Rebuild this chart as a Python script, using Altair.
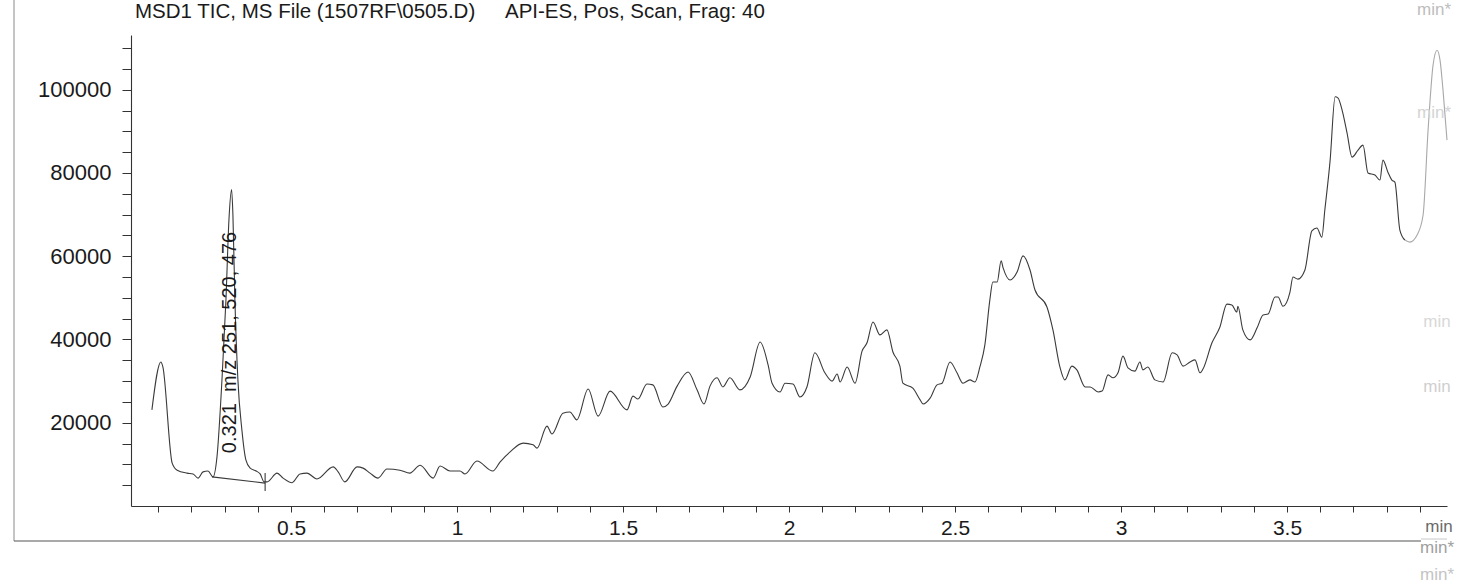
import altair as alt
import pandas as pd

# Total ion chromatogram: retention time (min) and TIC (counts)
time_min = [
    0.081, 0.108, 0.114, 0.142, 0.157, 0.187, 0.205, 0.220, 0.235, 0.250,
    0.265, 0.277, 0.292, 0.304, 0.313, 0.321, 0.325, 0.331, 0.340, 0.352,
    0.364, 0.377, 0.395, 0.407, 0.419, 0.428, 0.458, 0.476, 0.503, 0.527,
    0.548, 0.578, 0.627, 0.642, 0.662, 0.699, 0.717, 0.738, 0.762, 0.789,
    0.828, 0.858, 0.889, 0.928, 0.949, 0.979, 1.009, 1.024, 1.060, 1.108,
    1.130, 1.160, 1.199, 1.229, 1.241, 1.271, 1.286, 1.319, 1.340, 1.361,
    1.395, 1.425, 1.461, 1.512, 1.530, 1.545, 1.572, 1.590, 1.620, 1.636,
    1.663, 1.696, 1.723, 1.744, 1.762, 1.783, 1.801, 1.822, 1.852, 1.883,
    1.913, 1.937, 1.949, 1.973, 1.988, 2.012, 2.033, 2.054, 2.078, 2.108,
    2.130, 2.145, 2.154, 2.175, 2.199, 2.220, 2.235, 2.253, 2.274, 2.295,
    2.313, 2.334, 2.343, 2.373, 2.395, 2.404, 2.425, 2.446, 2.461, 2.485,
    2.506, 2.524, 2.545, 2.560, 2.575, 2.590, 2.605, 2.614, 2.627, 2.639,
    2.645, 2.666, 2.687, 2.705, 2.726, 2.741, 2.777, 2.795, 2.816, 2.831,
    2.852, 2.867, 2.892, 2.907, 2.931, 2.943, 2.961, 2.976, 2.991, 3.006,
    3.021, 3.042, 3.057, 3.066, 3.081, 3.102, 3.127, 3.154, 3.169, 3.187,
    3.208, 3.223, 3.238, 3.247, 3.274, 3.298, 3.319, 3.334, 3.349, 3.352,
    3.367, 3.389, 3.410, 3.428, 3.443, 3.464, 3.473, 3.488, 3.509, 3.518,
    3.533, 3.554, 3.575, 3.590, 3.605, 3.614, 3.630, 3.645, 3.654, 3.666,
    3.681, 3.696, 3.714, 3.729, 3.744, 3.765, 3.780, 3.789, 3.804, 3.816,
    3.825, 3.840, 3.855, 3.870, 3.892, 3.910, 3.925, 3.940, 3.952, 3.961,
    3.970, 3.982,
]
tic_counts = [
    23100, 34600, 33400, 10300, 8600, 7900, 7700, 6700, 8200, 8400,
    7000, 11800, 30300, 49500, 68700, 76000, 69900, 49500, 30300, 18300,
    11100, 9100, 8400, 7700, 5800, 5800, 7900, 6700, 5600, 7700,
    7900, 6500, 9400, 8200, 5800, 9400, 9100, 7900, 6700, 8900,
    8600, 7900, 9800, 6700, 9600, 8400, 8400, 7700, 10800, 8400,
    10600, 13000, 15100, 14700, 13900, 19200, 17300, 22300, 22600, 20700,
    28100, 21600, 27600, 23100, 26400, 25700, 29300, 29100, 23800, 24500,
    28800, 32200, 27900, 24500, 28800, 30800, 28600, 30800, 27900, 31000,
    39400, 33900, 29500, 27400, 29500, 29300, 26200, 28600, 36800, 32000,
    30000, 31700, 29800, 33400, 29500, 37200, 39200, 44200, 41100, 42300,
    37000, 33600, 29500, 28300, 25500, 24500, 25900, 29100, 29500, 34600,
    32000, 29500, 30300, 29800, 33400, 38700, 49500, 53800, 53800, 58900,
    57200, 54300, 56200, 60100, 56700, 51900, 47800, 42300, 33400, 30300,
    33600, 32700, 28600, 28600, 27400, 27600, 31500, 30800, 32000, 36000,
    33200, 32400, 34600, 32700, 33400, 30300, 29800, 36800, 36300, 33600,
    34600, 35100, 32000, 32900, 39200, 43000, 48500, 48300, 46600, 48000,
    42300, 39900, 42800, 45900, 46100, 50200, 50200, 48000, 51400, 55000,
    54500, 56700, 66100, 66800, 64600, 71100, 83100, 98300, 98000, 95100,
    89600, 83800, 85500, 86700, 80000, 79500, 78300, 83100, 80200, 78300,
    77800, 66300, 63900, 63400, 65100, 69900, 90300, 105900, 109500, 107100,
    99900, 87900,
]

# Integrated peak: retention time label and its drawn baseline
peak_time = 0.321
peak_label = "0.321\u00a0 m/z 251, 520, 476"
baseline_time = [0.262, 0.422]
baseline_tic = [7000, 5500]
cut_time = [0.422, 0.422]
cut_tic = [3600, 7900]

# Axis ticks
x_ticks = [round(0.1 * i, 1) for i in range(1, 40)]
y_ticks = list(range(5000, 110001, 5000))

TRACE_FADE = 3.855  # the end of the trace is printed lighter

df = pd.DataFrame({"time": time_min, "tic": tic_counts})
trace_df = df[df["time"] <= TRACE_FADE]
fade_df = df[df["time"] >= TRACE_FADE]

FONT = "Liberation Sans"
x_scale = alt.Scale(domain=[0.018, 3.982], nice=False, zero=False)
y_scale = alt.Scale(domain=[0, 113150], nice=False, zero=False)

x_axis = alt.Axis(
    values=x_ticks,
    labelExpr="abs(datum.value * 2 - round(datum.value * 2)) < 0.001 ? format(datum.value, '~g') : ''",
    title=None, tickSize=6, labelPadding=5, grid=False, labelOverlap=False,
    labelFontSize=21,
)
y_axis = alt.Axis(
    values=y_ticks,
    labelExpr="datum.value % 20000 == 0 ? format(datum.value, 'd') : ''",
    title=None, tickSize=9, labelPadding=11, grid=False, labelOverlap=False,
    labelFontSize=22,
)


def xy():
    # every layer carries the same scale and axis definitions
    return dict(
        x=alt.X("time:Q", scale=x_scale, axis=x_axis),
        y=alt.Y("tic:Q", scale=y_scale, axis=y_axis),
    )


trace = alt.Chart(trace_df).mark_line(
    color="#3a3a3a", strokeWidth=1.1, interpolate="monotone"
).encode(**xy())

fade = alt.Chart(fade_df).mark_line(
    color="#a8a8a8", strokeWidth=1.1, interpolate="monotone"
).encode(**xy())

base_line = alt.Chart(
    pd.DataFrame({"time": baseline_time, "tic": baseline_tic})
).mark_line(color="#3a3a3a", strokeWidth=1.1).encode(**xy())

cut_line = alt.Chart(
    pd.DataFrame({"time": cut_time, "tic": cut_tic})
).mark_line(color="#3a3a3a", strokeWidth=1.1).encode(**xy())

label = alt.Chart(
    pd.DataFrame({"time": [peak_time - 0.004], "tic": [12700], "text": [peak_label]})
).mark_text(
    angle=270, align="left", baseline="middle", font=FONT, fontSize=20,
    color="#1a1a1a",
).encode(text="text:N", **xy())

one = pd.DataFrame({"k": [0]})


def note(text, x, y, size, color, align="left", baseline="alphabetic"):
    return alt.Chart(one).mark_text(
        text=text, font=FONT, fontSize=size, color=color, align=align,
        baseline=baseline,
    ).encode(x=alt.value(x), y=alt.value(y))


title_a = note("MSD1 TIC, MS File (1507RF\\0505.D)", 4, -17, 20.5, "#1a1a1a")
title_b = note("API-ES, Pos, Scan, Frag: 40", 374, -17, 20.5, "#1a1a1a")

unit_notes = [
    note("min", 1308, 492, 17, "#6a6a6a", "center", "middle"),
    note("min*", 1306, 513, 17, "#a0a0a0", "center", "middle"),
    note("min*", 1306, 540, 17, "#c4c4c4", "center", "middle"),
    note("min*", 1303, -25, 17, "#bdbdbd", "center", "middle"),
    note("min*", 1303, 78, 17, "#d4d4d4", "center", "middle"),
    note("min", 1306, 287, 17, "#d8d8d8", "center", "middle"),
    note("min", 1306, 352, 17, "#cfcfcf", "center", "middle"),
]

# Outer frame of the printout (left edge and bottom edge)
frame_left = alt.Chart(one).mark_rule(color="#8a8a8a", strokeWidth=1).encode(
    x=alt.value(-117), y=alt.value(-35), y2=alt.value(506)
)
frame_bottom = alt.Chart(one).mark_rule(color="#555555", strokeWidth=1.2).encode(
    x=alt.value(-117), x2=alt.value(1290), y=alt.value(506)
)
frame_bottom_fade = alt.Chart(one).mark_rule(color="#c8c8c8", strokeWidth=1).encode(
    x=alt.value(1290), x2=alt.value(1316), y=alt.value(504)
)

chart = alt.layer(
    trace, fade, base_line, cut_line, label, title_a, title_b,
    frame_left, frame_bottom, frame_bottom_fade, *unit_notes,
).properties(
    width=1316, height=471,
    autosize=alt.AutoSizeParams(type="none"),
    padding={"left": 131, "top": 35, "right": 13, "bottom": 78},
    background="white",
).configure_view(
    stroke=None
).configure_axis(
    domainColor="#333333", domainWidth=1.1, tickColor="#333333", tickWidth=1,
    labelFont=FONT, labelColor="#1a1a1a", labelOverlap=False,
)

chart.save("out.html", embed_options={"renderer": "svg", "actions": False})
